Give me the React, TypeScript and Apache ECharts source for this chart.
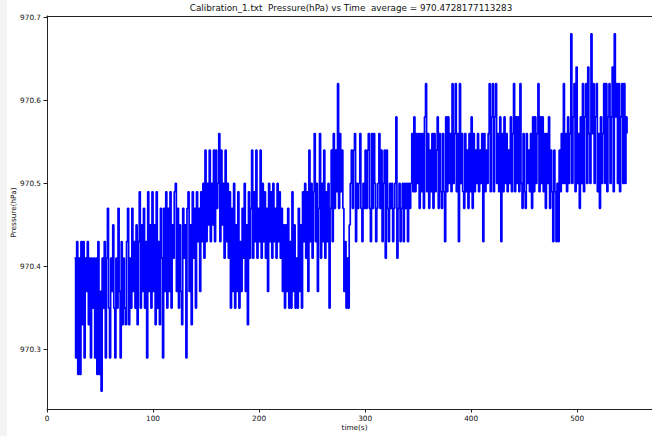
import React, { useEffect, useRef } from "react";
import * as echarts from "echarts";

const TITLE = "Calibration_1.txt  Pressure(hPa) vs Time  average = 970.4728177113283";
const X_NAME = "time(s)";
const Y_NAME = "Pressure(hPa)";
const X_TICKS = [0, 100, 200, 300, 400, 500];
const Y_TICKS = [970.3, 970.4, 970.5, 970.6, 970.7];

// readings are stored as hundredths of hPa above 970 hPa, one per second from t = 26 s
const BASE_HPA = 970;
const START_TIME = 26;
const SAMPLE_PERIOD = 1;

const seg026 = [41, 29, 43, 27, 41, 27, 43, 33, 43, 29, 41, 37, 43, 33, 41, 29, 41, 35, 41, 29, 41, 27, 43, 27, 37, 25];
const seg052 = [41, 35, 43, 29, 41, 47, 35, 29, 41, 37, 45, 35, 29, 41, 35, 47, 37, 29, 43, 33, 41, 35, 33, 43, 47, 33, 41, 35, 47, 37];
const seg082 = [43, 35, 45, 33, 43, 49, 35, 45, 37, 47, 35, 43, 29, 49, 37, 45, 35, 49, 37, 45, 33, 49, 35, 43, 33, 47];
const seg108 = [41, 29, 47, 37, 49, 35, 47, 37, 49, 35, 45, 41, 49, 50, 37, 47, 35, 45, 37, 33, 47, 41, 45, 29, 47, 49, 37, 45, 33, 49, 41, 47, 35, 49, 43, 47, 37, 49];
const seg146 = [43, 50, 41, 54, 43, 50, 45, 54, 43, 50, 45, 54, 43, 54, 47, 50, 56, 43, 54, 45, 50, 41, 54, 43, 50, 41];
const seg172 = [49, 35, 47, 37, 50, 35, 45, 37, 49, 35, 43, 37, 47, 41, 50, 37, 45, 33, 49, 41];
const seg192 = [47, 54, 41, 49, 43, 54, 41, 47, 43, 54, 41, 50, 43, 49, 41, 47, 37, 50, 43, 49, 41, 50, 43, 47, 41, 50, 43, 49, 41, 47, 37, 45];
const seg224 = [35, 45, 37, 47, 35, 43, 35, 49, 37, 45, 35, 41, 35, 47, 37, 45, 35, 49];
const seg242 = [43, 50, 41, 49, 37, 54, 43, 50, 41, 49, 56, 43, 50, 37, 47, 56, 41, 50, 43, 54, 41, 49, 43, 50, 35, 47, 54, 43, 56, 47, 54, 49, 62, 47, 56, 49, 54];
const seg279 = [47, 37, 43, 35, 41, 35, 45];
const seg286 = [50, 54, 47, 54, 56, 43, 50, 47, 50, 56, 47, 43, 50, 47, 54, 47, 54, 56, 47, 43, 56, 47, 56, 50, 43, 47, 50, 56, 47, 54, 43, 50, 54, 41, 54, 47, 43, 50, 47, 50, 43, 47, 50, 58, 41, 47, 50, 43, 47, 50, 43, 50];
const seg338 = [47, 50, 43, 50, 47, 50, 56, 49, 58, 49, 56, 50, 56, 47, 56, 49, 56, 47, 58];
const seg357 = [62, 49, 56, 47, 54, 49, 56, 47, 56, 49, 54, 58, 47, 56, 49, 47, 56, 49, 43, 58, 49, 58, 50, 56, 49, 62, 50, 56, 62, 49, 56, 43, 62, 50, 56, 49, 47, 56, 49, 54, 47, 56, 49, 58, 47, 56, 49, 54, 50, 56, 49, 54, 50, 56, 43, 56, 49, 54, 50, 56, 62, 49, 58, 62, 49, 58, 62, 50, 56, 49, 58, 43, 56, 49, 58, 50, 56, 49, 54, 50, 58, 49, 56];
const seg440 = [62, 49, 58, 50, 58, 49, 62, 50, 47, 56, 49, 47, 56, 50, 54, 49, 56, 47, 58, 49, 58, 50, 56, 62, 49, 58, 50, 58, 49, 56, 47, 56, 50, 58, 47, 54, 49, 43, 54, 49, 43, 50, 43, 54, 49, 56, 50];
const seg487 = [62, 50, 56, 49, 58, 50, 56, 68, 50, 58, 62, 49, 64, 50, 56, 47, 58, 50, 62, 49, 58, 62, 50, 64, 56, 50, 68, 56, 62, 50, 58, 62, 49, 56, 47, 58, 50, 56, 62, 50, 62, 49, 58, 62, 50, 58, 64, 49, 68, 58, 62, 50, 62, 49, 58, 62, 50, 62, 50, 58, 56];

const readings = [
  ...seg026, ...seg052, ...seg082, ...seg108, ...seg146, ...seg172, ...seg192, ...seg224,
  ...seg242, ...seg279, ...seg286, ...seg338, ...seg357, ...seg440, ...seg487,
];

const FONT = "DejaVu Sans";
const INK = "#111";
const SPINE = "#222";

export default function App() {
  const ref = useRef<HTMLDivElement>(null);
  useEffect(() => {
    if (!ref.current) return;
    const chart = echarts.init(ref.current, null, { renderer: "svg" });
    const data = readings.map((v, i) => [START_TIME + i * SAMPLE_PERIOD, BASE_HPA + v / 100]);
    chart.setOption({
      animation: false,
      backgroundColor: "#ffffff",
      textStyle: { fontFamily: FONT },
      graphic: [
        { type: "rect", shape: { x: 0, y: 0, width: 7, height: 436 }, style: { fill: "#f4f4f4" }, silent: true },
        {
          type: "text",
          x: 351,
          y: 8,
          style: { text: TITLE, fontFamily: FONT, fontSize: 8.8, fill: INK, textAlign: "center", textVerticalAlign: "middle" },
        },
      ],
      grid: {
        left: 47,
        right: -10,
        top: 16,
        bottom: 27,
        containLabel: false,
        outerBoundsMode: "none",
        show: false,
      },
      xAxis: [
        {
          type: "value",
          position: "bottom",
          min: 0,
          max: 580,
          name: X_NAME,
          nameLocation: "middle",
          nameGap: 15,
          nameMoveOverlap: false,
          nameTextStyle: { fontFamily: FONT, fontSize: 7.3, color: INK },
          splitLine: { show: false },
          axisLine: { show: true, onZero: false, lineStyle: { color: SPINE, width: 1 } },
          axisTick: { show: true, customValues: X_TICKS, length: 3.5, lineStyle: { color: SPINE } },
          axisLabel: { customValues: X_TICKS, fontFamily: FONT, fontSize: 7.3, color: INK, margin: 6 },
        },
        {
          type: "value",
          position: "top",
          min: 0,
          max: 580,
          splitLine: { show: false },
          axisLine: { show: true, onZero: false, lineStyle: { color: SPINE, width: 1 } },
          axisTick: { show: false },
          axisLabel: { show: false },
        },
      ],
      yAxis: {
        type: "value",
        min: 970.2285,
        max: 970.7015,
        name: Y_NAME,
        nameLocation: "middle",
        nameGap: 30,
        nameMoveOverlap: false,
        nameTextStyle: { fontFamily: FONT, fontSize: 7.3, color: INK },
        splitLine: { show: false },
        axisLine: { show: true, onZero: false, lineStyle: { color: SPINE, width: 1 } },
        axisTick: { show: true, customValues: Y_TICKS, length: 3.5, lineStyle: { color: SPINE } },
        axisLabel: {
          customValues: Y_TICKS,
          fontFamily: FONT,
          fontSize: 7.3,
          color: INK,
          margin: 6,
          formatter: (v: number) => v.toFixed(1),
        },
      },
      series: [
        {
          type: "line",
          xAxisIndex: 0,
          data,
          step: "end",
          showSymbol: false,
          symbol: "none",
          lineStyle: { color: "#0000ff", width: 1.7 },
        },
      ],
    });
    return () => chart.dispose();
  }, []);
  return (
    <div style={{ position: "fixed", left: 0, top: 0, width: 652, height: 436, background: "#fff" }}>
      <div ref={ref} style={{ width: 652, height: 436 }} />
    </div>
  );
}
